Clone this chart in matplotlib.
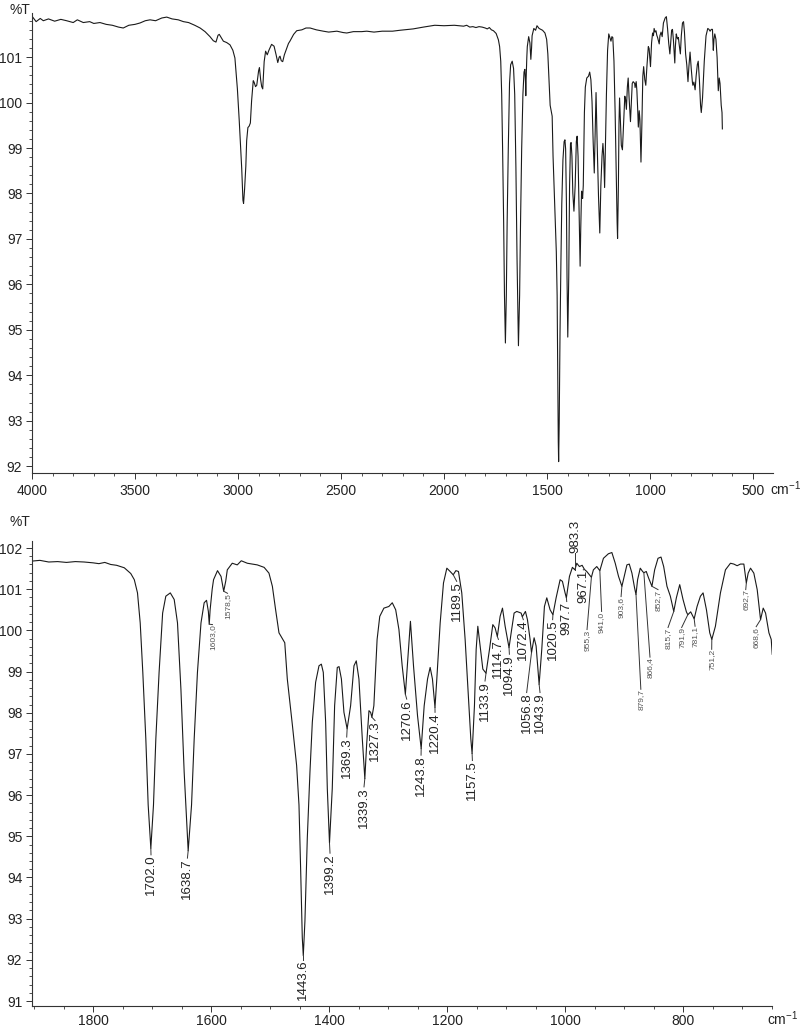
import matplotlib
matplotlib.use('Agg')
import matplotlib.pyplot as plt
import numpy as np
from matplotlib.ticker import MultipleLocator

plt.rcParams['font.family'] = ['Liberation Sans', 'DejaVu Sans']
plt.rcParams['mathtext.fontset'] = 'custom'
plt.rcParams['mathtext.rm'] = 'Liberation Sans'

# high wavenumber part (top panel only), cm-1 / %T
hi_wn = [4000, 3980, 3960, 3945, 3920, 3890, 3860, 3832, 3800, 3780, 3751, 3720, 3700,
         3670, 3640, 3610, 3580, 3557, 3530, 3500, 3476, 3450, 3427, 3400, 3370, 3346,
         3320, 3290, 3265, 3240, 3210, 3184, 3160, 3136, 3120, 3107, 3097, 3091, 3080,
         3071, 3055, 3039, 3025, 3015, 3008, 3003, 2994, 2982, 2976, 2973, 2968, 2962,
         2958, 2952, 2946, 2940, 2934, 2926, 2922, 2915, 2909, 2900, 2896, 2890, 2885,
         2880, 2873, 2866, 2858, 2850, 2837, 2825, 2815, 2807, 2800, 2796, 2790, 2783,
         2775, 2767, 2755, 2748, 2730, 2715, 2690, 2670, 2650, 2620, 2586, 2560, 2520,
         2490, 2472, 2440, 2400, 2375, 2340, 2300, 2250, 2214, 2150, 2100, 2045, 2000, 1950]
hi_t = [101.90, 101.78, 101.85, 101.80, 101.84, 101.79, 101.83, 101.80, 101.76, 101.82,
        101.76, 101.78, 101.74, 101.76, 101.72, 101.70, 101.66, 101.64, 101.70, 101.72,
        101.75, 101.80, 101.82, 101.80, 101.86, 101.88, 101.84, 101.82, 101.78, 101.76,
        101.70, 101.64, 101.56, 101.45, 101.36, 101.33, 101.48, 101.50, 101.42, 101.35,
        101.32, 101.27, 101.15, 100.98, 100.60, 100.30, 99.60, 98.55, 97.85, 97.78,
        98.10, 98.60, 99.16, 99.45, 99.48, 99.55, 100.04, 100.48, 100.45, 100.35, 100.38,
        100.70, 100.77, 100.50, 100.35, 100.30, 100.90, 101.13, 101.05, 101.15, 101.28,
        101.24, 101.05, 100.88, 101.00, 101.02, 100.92, 100.90, 101.05, 101.15, 101.30,
        101.35, 101.50, 101.58, 101.60, 101.64, 101.64, 101.60, 101.57, 101.55, 101.57,
        101.54, 101.53, 101.56, 101.56, 101.57, 101.55, 101.57, 101.57, 101.59, 101.62,
        101.66, 101.70, 101.69, 101.70]

# fingerprint region (both panels)
fp_wn = [1905, 1890, 1875, 1860, 1845, 1830, 1815, 1800, 1790, 1780, 1770, 1760, 1747,
         1736, 1730, 1724.6, 1720, 1715.6, 1710.5, 1706.5, 1702, 1697.5, 1693.5, 1688,
         1682, 1676.6, 1669, 1662.4, 1656.8, 1651, 1645.5, 1638.7, 1633, 1628.5, 1623,
         1617, 1611.6, 1607.6, 1604.5, 1603, 1601.5, 1598, 1595.7, 1589, 1583, 1578.5,
         1575, 1572.4, 1564, 1555.5, 1548.7, 1538.5, 1521.6, 1510, 1501.8, 1496, 1490.5,
         1484.8, 1479, 1475, 1470.7, 1462, 1454.9, 1450.9, 1448, 1445.3, 1443.6, 1440.8,
         1436.8, 1432.3, 1428.3, 1422.7, 1417, 1413, 1409.7, 1405.7, 1402.9, 1399.2,
         1394.5, 1390.5, 1386, 1383, 1379, 1374.7, 1369.3, 1363.4, 1357.7, 1353.8, 1349.3,
         1343.6, 1339.3, 1336.3, 1332.3, 1329.5, 1327.3, 1324, 1318.5, 1314, 1307, 1298.6,
         1292.8, 1287, 1281.5, 1276, 1270.6, 1266, 1262, 1256.8, 1250, 1243.8, 1238.7,
         1233, 1228.6, 1224.7, 1220.4, 1217.3, 1211.6, 1206, 1200.3, 1194.7, 1189.5, 1185,
         1180.6, 1175, 1169.3, 1163.6, 1159.7, 1157.5, 1153.5, 1150.6, 1147.8, 1143.9,
         1139.3, 1133.9, 1128, 1122.4, 1118.5, 1114.7, 1110, 1106, 1101.5, 1094.9, 1091.3,
         1086.3, 1081.8, 1074.4, 1072.4, 1067.1, 1063.7, 1059.2, 1056.8, 1052.4, 1049,
         1043.9, 1039.4, 1034.9, 1030.9, 1025.3, 1020.5, 1015.1, 1008.3, 1004.4, 999.9,
         997.7, 992.5, 987.5, 983.3, 980.1, 975.6, 971, 967.1, 963.2, 955.3, 951.9, 946.2,
         941.0, 934.9, 926.5, 920.6, 914.9, 909.3, 903.6, 899.6, 895.1, 891.1, 886.6,
         882.1, 879.7, 877, 872.5, 868.5, 866.4, 862.3, 858.3, 852.7, 848.1, 842.4, 837.3,
         832.8, 827.2, 821.5, 815.7, 811.3, 805.6, 800, 794.3, 791.9, 787, 781.1, 776.2,
         770.5, 766, 760.3, 754.7, 751.2, 745.1, 736.6, 728.1, 719.6, 713.9, 708.3, 702.6,
         696.9, 692.7, 689.6, 685.6, 680, 674.3, 668.6, 664.1, 660.1, 654.4, 650.5, 648.8]
fp_t = [101.68, 101.70, 101.66, 101.67, 101.65, 101.67, 101.66, 101.64, 101.62, 101.65,
        101.60, 101.58, 101.52, 101.38, 101.23, 100.91, 100.18, 98.98, 97.37, 95.76, 94.71,
        95.76, 97.37, 98.98, 100.42, 100.83, 100.91, 100.75, 100.18, 98.57, 96.56, 94.65,
        95.76, 97.37, 98.98, 100.18, 100.67, 100.73, 100.46, 100.15, 100.50, 101.00,
        101.23, 101.45, 101.31, 100.95, 101.20, 101.47, 101.63, 101.59, 101.69, 101.63,
        101.59, 101.53, 101.39, 101.07, 100.50, 99.94, 99.80, 99.70, 98.82, 97.69, 96.72,
        95.76, 94.15, 92.54, 92.10, 92.95, 94.96, 96.56, 97.77, 98.74, 99.14, 99.18, 98.98,
        97.77, 96.16, 94.84, 96.16, 98.17, 99.10, 99.12, 98.82, 98.01, 97.61, 98.17, 99.14,
        99.26, 98.82, 97.37, 96.40, 97.21, 98.05, 98.01, 97.89, 98.17, 99.78, 100.34,
        100.54, 100.58, 100.67, 100.50, 100.02, 99.14, 98.45, 99.38, 100.22, 99.14, 97.93,
        97.13, 98.17, 98.82, 99.10, 98.82, 98.13, 98.82, 100.18, 101.15, 101.51, 101.43,
        101.35, 101.45, 101.43, 100.91, 99.78, 98.33, 97.37, 97.01, 98.17, 99.54, 100.10,
        99.62, 99.06, 98.96, 99.54, 100.14, 100.06, 99.85, 100.34, 100.54, 100.10, 99.58,
        99.94, 100.42, 100.46, 100.42, 100.33, 100.46, 100.26, 99.78, 99.46, 99.82, 99.62,
        98.69, 99.54, 100.58, 100.79, 100.50, 100.38, 100.79, 101.23, 101.19, 100.91,
        100.79, 101.31, 101.53, 101.47, 101.63, 101.55, 101.58, 101.48, 101.43, 101.29,
        101.47, 101.55, 101.45, 101.75, 101.86, 101.89, 101.63, 101.31, 101.07, 101.31,
        101.59, 101.61, 101.39, 101.03, 100.87, 101.23, 101.51, 101.43, 101.40, 101.43,
        101.27, 101.07, 101.47, 101.75, 101.78, 101.55, 101.07, 100.83, 100.46, 100.79,
        101.11, 100.75, 100.45, 100.38, 100.45, 100.28, 100.58, 100.83, 100.91, 100.50,
        99.94, 99.78, 100.10, 100.91, 101.47, 101.63, 101.61, 101.57, 101.61, 101.61,
        101.15, 101.39, 101.51, 101.39, 100.99, 100.26, 100.54, 100.42, 99.94, 99.78, 99.42]

# peak labels of the lower panel
peak_txt = ['1702.0', '1638.7', '1443.6', '1399.2', '1369.3', '1339.3', '1327.3', '1270.6',
            '1243.8', '1220.4', '1189.5', '1157.5', '1133.9', '1114.7', '1094.9', '1072.4',
            '1056.8', '1043.9', '1020.5', '997.7', '983.3', '967.1',
            '1603,0', '1578,5', '955,3', '941,0', '903,6', '879,7', '866,4', '852,7',
            '815,7', '791,9', '781,1', '751,2', '692,7', '668,6']
peak_wn = [1702.0, 1638.7, 1443.6, 1399.2, 1369.3, 1339.3, 1327.3, 1270.6, 1243.8, 1220.4,
           1189.5, 1157.5, 1133.9, 1114.7, 1094.9, 1072.4, 1056.8, 1043.9, 1020.5, 997.7,
           983.3, 967.1, 1603.0, 1578.5, 955.3, 941.0, 903.6, 879.7, 866.4, 852.7, 815.7,
           791.9, 781.1, 751.2, 692.7, 668.6]

# where each label sits (x in cm-1, top edge in %T)
lab_x = [1701.7, 1640, 1443.6, 1398.3, 1370, 1340.7, 1322, 1268.3, 1244, 1220.3,
         1183.6, 1157, 1135.6, 1112.9, 1094.3, 1070.7, 1065, 1042.4, 1021, 997.1,
         983.3, 969, 1597.5, 1572, 962.7, 938, 905, 871.5, 856, 842.4, 825.4, 802.3,
         779.6, 751.4, 693.7, 676]
lab_top = [94.55, 94.47, 92.0, 94.59, 97.41, 96.2, 97.81, 98.33, 96.97, 98.01,
           101.19, 96.84, 98.77, 99.78, 99.42, 100.26, 98.49, 98.49, 100.26, 100.7,
           101.88, 101.47, 100.14, 100.9, 100.02, 100.46, 100.82, 98.57, 99.35, 100.99,
           100.07, 100.07, 100.1, 99.54, 100.99, 100.09]

spec_wn = np.array(hi_wn + fp_wn)
spec_t = np.array(hi_t + fp_t)

fig = plt.figure(figsize=(8, 10.31), dpi=100)
ax1 = fig.add_axes([32/800, 1 - 473/1031, 741/800, 460/1031])
ax2 = fig.add_axes([32/800, 1 - 1006/1031, 740/800, 465/1031])

ax1.plot(spec_wn, spec_t, color='#1a1a1a', lw=0.8)
ax1.set_xlim(4000, 403)
ax1.set_ylim(91.85, 101.97)
ax1.xaxis.set_major_locator(MultipleLocator(500))
ax1.xaxis.set_minor_locator(MultipleLocator(100))

ax2.plot(fp_wn, fp_t, color='#1a1a1a', lw=0.8)
ax2.set_xlim(1903.4, 649.2)
ax2.set_ylim(90.88, 102.17)
ax2.xaxis.set_major_locator(MultipleLocator(200))
ax2.xaxis.set_minor_locator(MultipleLocator(50))

for ax in (ax1, ax2):
    for s in ('top', 'right'):
        ax.spines[s].set_visible(False)
    for s in ('left', 'bottom'):
        ax.spines[s].set_linewidth(0.8)
        ax.spines[s].set_color('#333333')
    ax.yaxis.set_major_locator(MultipleLocator(1))
    ax.yaxis.set_minor_locator(MultipleLocator(0.2))
    ax.tick_params(which='major', length=4, width=0.7, color='#333333', labelsize=10,
                   labelcolor='#222222')
    ax.tick_params(which='minor', length=2.5, width=0.6, color='#333333')
    ax.tick_params(axis='y', pad=3)
ax1.tick_params(axis='x', pad=4)
ax2.tick_params(axis='x', pad=2)

# peak labels with leader lines
fp_asc_wn = np.array(fp_wn[::-1])
fp_asc_t = np.array(fp_t[::-1])
for txt, pw, lx, lt in zip(peak_txt, peak_wn, lab_x, lab_top):
    tip = np.interp(pw, fp_asc_wn, fp_asc_t)
    small = ',' in txt
    above = lt > tip
    ax2.plot([pw, lx], [tip, lt], color='#333333', lw=0.7, clip_on=False)
    ax2.text(lx, lt, txt, rotation=90, ha='center', va='bottom' if above else 'top',
             fontsize=6 if small else 9.5, color='#555555' if small else '#222222',
             clip_on=False)

fig.text(9/800, 1 - 10/1031, '%T', fontsize=10, color='#222222', va='center')
fig.text(9/800, 1 - 522/1031, '%T', fontsize=10, color='#222222', va='center')
fig.text(770/800, 1 - 489/1031, 'cm$^{-1}$', fontsize=10, color='#222222', va='center')
fig.text(767/800, 1 - 1019/1031, 'cm$^{-1}$', fontsize=10, color='#222222', va='center')

fig.savefig('out.png', dpi=100)
